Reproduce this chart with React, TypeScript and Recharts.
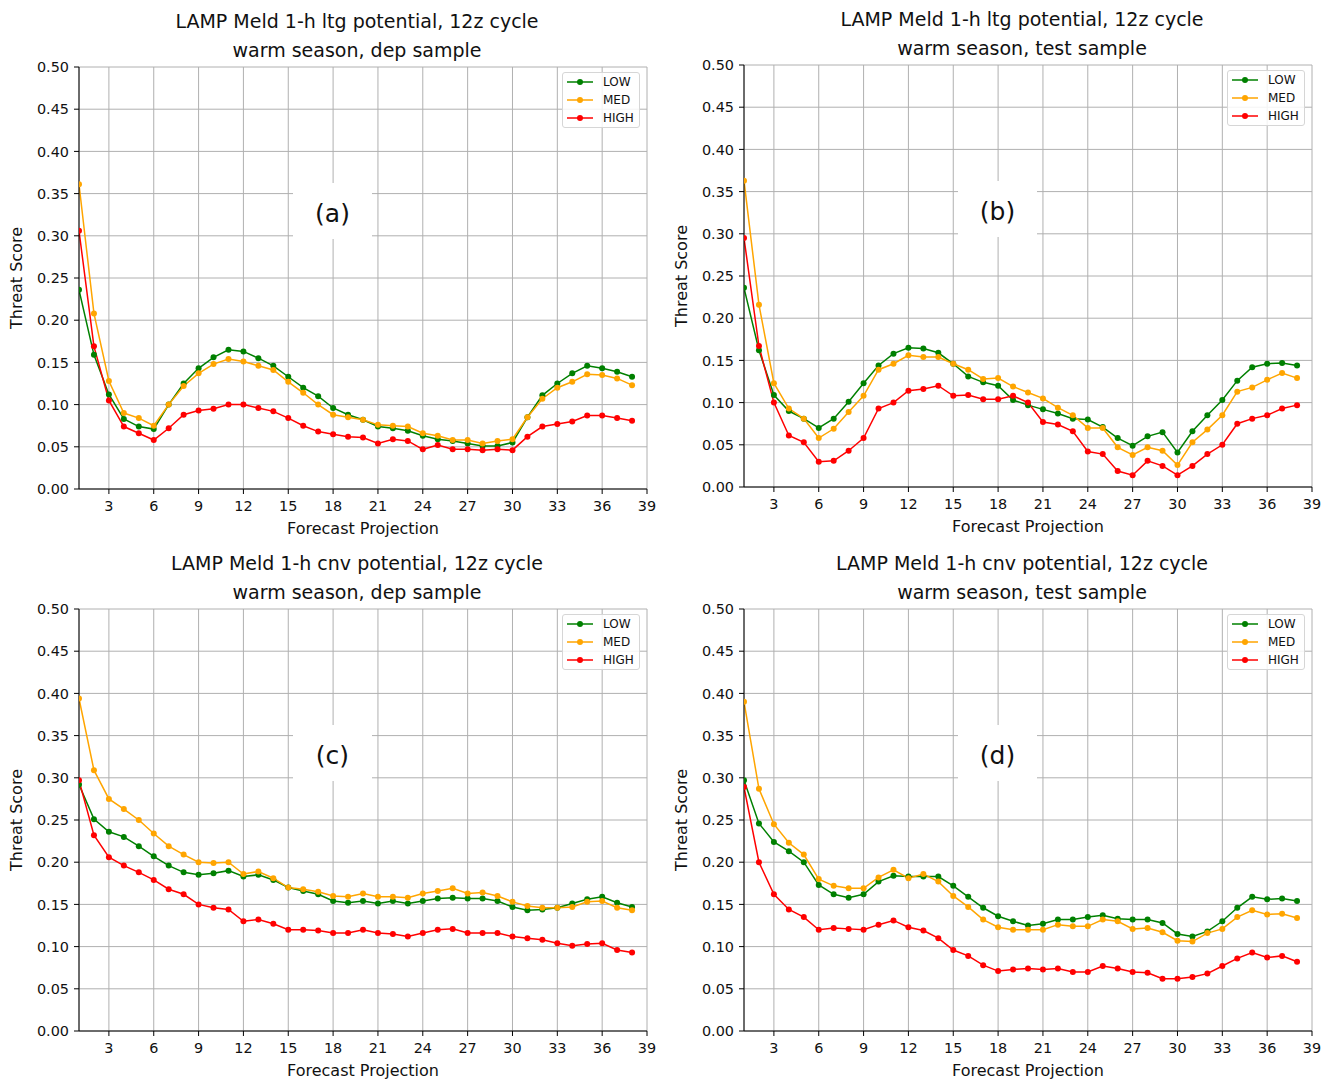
import React from 'react';
import { LineChart, Line, XAxis, YAxis, CartesianGrid } from 'recharts';

const FONT = '"DejaVu Sans", "Liberation Sans", sans-serif';

// Forecast projection (hours)
const steps = [1, 2, 3, 4, 5, 6, 7, 8, 9, 10, 11, 12, 13, 14, 15, 16, 17, 18, 19, 20, 21, 22, 23, 24, 25, 26, 27, 28, 29, 30, 31, 32, 33, 34, 35, 36, 37, 38];
const xTicks = [3, 6, 9, 12, 15, 18, 21, 24, 27, 30, 33, 36, 39];
const yTicks = [0, 0.05, 0.1, 0.15, 0.2, 0.25, 0.3, 0.35, 0.4, 0.45, 0.5];

const levels = ['LOW', 'MED', 'HIGH'];
const levelColors = ['#008000', '#ffa500', '#ff0000'];

// (a) ltg potential, dep sample
const aLow = [0.236, 0.159, 0.112, 0.083, 0.074, 0.071, 0.100, 0.125, 0.143, 0.156, 0.165, 0.163, 0.155, 0.146, 0.133, 0.120, 0.110, 0.096, 0.088, 0.082, 0.074, 0.072, 0.069, 0.063, 0.059, 0.057, 0.054, 0.051, 0.051, 0.055, 0.085, 0.111, 0.125, 0.137, 0.146, 0.143, 0.139, 0.133];
const aMed = [0.361, 0.208, 0.128, 0.090, 0.084, 0.075, 0.100, 0.122, 0.137, 0.148, 0.154, 0.151, 0.146, 0.141, 0.127, 0.114, 0.100, 0.088, 0.085, 0.082, 0.076, 0.075, 0.074, 0.066, 0.063, 0.058, 0.058, 0.054, 0.057, 0.059, 0.085, 0.107, 0.120, 0.127, 0.136, 0.135, 0.131, 0.123];
const aHigh = [0.306, 0.169, 0.105, 0.074, 0.066, 0.058, 0.072, 0.088, 0.093, 0.095, 0.100, 0.100, 0.096, 0.092, 0.084, 0.075, 0.068, 0.065, 0.062, 0.061, 0.054, 0.059, 0.057, 0.047, 0.052, 0.047, 0.047, 0.046, 0.047, 0.046, 0.062, 0.074, 0.077, 0.080, 0.087, 0.087, 0.084, 0.081];

// (b) ltg potential, test sample
const bLow = [0.236, 0.162, 0.109, 0.090, 0.081, 0.070, 0.081, 0.101, 0.123, 0.144, 0.158, 0.165, 0.164, 0.159, 0.146, 0.131, 0.124, 0.120, 0.103, 0.097, 0.092, 0.087, 0.081, 0.080, 0.071, 0.058, 0.049, 0.060, 0.065, 0.041, 0.066, 0.085, 0.103, 0.126, 0.142, 0.146, 0.147, 0.144];
const bMed = [0.363, 0.216, 0.123, 0.093, 0.081, 0.058, 0.069, 0.089, 0.108, 0.139, 0.146, 0.156, 0.154, 0.154, 0.146, 0.139, 0.128, 0.129, 0.119, 0.112, 0.105, 0.094, 0.085, 0.070, 0.070, 0.047, 0.038, 0.047, 0.043, 0.026, 0.053, 0.068, 0.085, 0.113, 0.118, 0.127, 0.135, 0.129];
const bHigh = [0.295, 0.167, 0.100, 0.061, 0.053, 0.030, 0.031, 0.043, 0.058, 0.093, 0.100, 0.114, 0.116, 0.120, 0.108, 0.109, 0.104, 0.104, 0.108, 0.100, 0.077, 0.074, 0.066, 0.042, 0.039, 0.019, 0.014, 0.031, 0.025, 0.014, 0.025, 0.039, 0.050, 0.075, 0.081, 0.085, 0.093, 0.097];

// (c) cnv potential, dep sample
const cLow = [0.292, 0.251, 0.236, 0.230, 0.219, 0.207, 0.196, 0.188, 0.185, 0.187, 0.190, 0.183, 0.185, 0.179, 0.170, 0.166, 0.162, 0.154, 0.152, 0.154, 0.151, 0.154, 0.151, 0.154, 0.157, 0.158, 0.157, 0.157, 0.154, 0.147, 0.143, 0.144, 0.146, 0.151, 0.156, 0.159, 0.152, 0.147];
const cMed = [0.394, 0.309, 0.275, 0.263, 0.250, 0.234, 0.219, 0.209, 0.200, 0.199, 0.200, 0.186, 0.189, 0.181, 0.170, 0.168, 0.165, 0.160, 0.159, 0.163, 0.159, 0.159, 0.158, 0.163, 0.166, 0.169, 0.163, 0.164, 0.160, 0.153, 0.148, 0.146, 0.146, 0.147, 0.153, 0.154, 0.146, 0.143];
const cHigh = [0.297, 0.232, 0.206, 0.196, 0.188, 0.179, 0.168, 0.162, 0.150, 0.146, 0.144, 0.130, 0.132, 0.127, 0.120, 0.120, 0.119, 0.116, 0.116, 0.120, 0.116, 0.115, 0.112, 0.116, 0.120, 0.121, 0.116, 0.116, 0.116, 0.112, 0.110, 0.108, 0.104, 0.101, 0.103, 0.104, 0.096, 0.093];

// (d) cnv potential, test sample
const dLow = [0.297, 0.246, 0.224, 0.213, 0.200, 0.173, 0.162, 0.158, 0.162, 0.177, 0.184, 0.183, 0.183, 0.183, 0.172, 0.159, 0.146, 0.136, 0.130, 0.125, 0.127, 0.132, 0.132, 0.135, 0.137, 0.133, 0.132, 0.132, 0.128, 0.115, 0.112, 0.118, 0.130, 0.146, 0.159, 0.156, 0.157, 0.154];
const dMed = [0.390, 0.287, 0.245, 0.223, 0.209, 0.180, 0.172, 0.169, 0.169, 0.182, 0.191, 0.181, 0.186, 0.177, 0.160, 0.147, 0.132, 0.123, 0.120, 0.120, 0.120, 0.126, 0.124, 0.124, 0.132, 0.130, 0.121, 0.122, 0.117, 0.107, 0.106, 0.116, 0.121, 0.135, 0.143, 0.138, 0.139, 0.134];
const dHigh = [0.289, 0.200, 0.162, 0.144, 0.135, 0.120, 0.122, 0.121, 0.120, 0.126, 0.131, 0.123, 0.119, 0.110, 0.096, 0.089, 0.078, 0.071, 0.073, 0.074, 0.073, 0.074, 0.070, 0.070, 0.077, 0.074, 0.070, 0.069, 0.062, 0.062, 0.064, 0.068, 0.077, 0.086, 0.093, 0.087, 0.089, 0.082];

const panels = [
  { left: 79, top: 67, title1: 'LAMP Meld 1-h ltg potential, 12z cycle', title2: 'warm season, dep sample', tag: '(a)', series: [aLow, aMed, aHigh] },
  { left: 744, top: 65, title1: 'LAMP Meld 1-h ltg potential, 12z cycle', title2: 'warm season, test sample', tag: '(b)', series: [bLow, bMed, bHigh] },
  { left: 79, top: 609, title1: 'LAMP Meld 1-h cnv potential, 12z cycle', title2: 'warm season, dep sample', tag: '(c)', series: [cLow, cMed, cHigh] },
  { left: 744, top: 609, title1: 'LAMP Meld 1-h cnv potential, 12z cycle', title2: 'warm season, test sample', tag: '(d)', series: [dLow, dMed, dHigh] },
];

const PW = 568; // plot width
const PH = 422; // plot height
const ML = 79;  // offset of plot inside chart
const MT = 67;
const CW = 665;
const CH = 541;
const YW = 60;
const XH = 30;

const tickStyle = { fontSize: 14.4, fill: '#111', fontFamily: FONT };

function Panel({ p }: { p: any }) {
  const data = steps.map((s, i) => {
    const row: any = { step: s };
    levels.forEach((lv, k) => { row[lv] = p.series[k][i]; });
    return row;
  });
  const textBase: React.CSSProperties = { position: 'absolute', fontFamily: FONT, color: '#111', whiteSpace: 'nowrap' };
  return (
    <>
      <div style={{ position: 'absolute', left: p.left - ML, top: p.top - MT, width: CW, height: CH }}>
        <LineChart
          width={CW}
          height={CH}
          data={data}
          margin={{ top: MT, right: CW - ML - PW, bottom: CH - MT - PH - XH, left: ML - YW }}
        >
          <CartesianGrid stroke="#b0b0b0" strokeWidth={1} />
          <XAxis
            dataKey="step"
            type="number"
            domain={[1, 39]}
            ticks={xTicks}
            interval={0}
            height={XH}
            tick={tickStyle}
            tickSize={5}
            tickMargin={7}
            axisLine={{ stroke: '#000' }}
            tickLine={{ stroke: '#000' }}
            allowDataOverflow
          />
          <XAxis
            xAxisId="top"
            orientation="top"
            dataKey="step"
            type="number"
            domain={[1, 39]}
            height={0}
            tick={false}
            tickLine={false}
            axisLine={{ stroke: '#000' }}
          />
          <YAxis
            type="number"
            domain={[0, 0.5]}
            ticks={yTicks}
            interval={0}
            width={YW}
            tick={tickStyle}
            tickSize={5}
            tickMargin={5}
            tickFormatter={(v: number) => v.toFixed(2)}
            axisLine={{ stroke: '#000' }}
            tickLine={{ stroke: '#000' }}
            allowDataOverflow
          />
          <YAxis
            yAxisId="right"
            orientation="right"
            type="number"
            domain={[0, 0.5]}
            width={0}
            tick={false}
            tickLine={false}
            axisLine={{ stroke: '#000' }}
          />
          {levels.map((lv, k) => (
            <Line
              key={lv}
              type="linear"
              dataKey={lv}
              stroke={levelColors[k]}
              strokeWidth={1.5}
              dot={{ r: 3, fill: levelColors[k], stroke: levelColors[k], strokeWidth: 0 }}
              activeDot={false}
              isAnimationActive={false}
            />
          ))}
        </LineChart>
      </div>
      {/* title */}
      <div style={{ ...textBase, left: p.left + 278 - 300, width: 600, top: p.top - 46 - 14.5, textAlign: 'center', fontSize: 19, lineHeight: '29px' }}>
        <div>{p.title1}</div>
        <div>{p.title2}</div>
      </div>
      {/* y label */}
      <div style={{ ...textBase, left: p.left - 62 - 70, top: p.top + 211 - 10, width: 140, height: 20, lineHeight: '20px', textAlign: 'center', fontSize: 16, transform: 'rotate(-90deg)' }}>
        Threat Score
      </div>
      {/* x label */}
      <div style={{ ...textBase, left: p.left + 284 - 100, top: p.top + 462 - 10, width: 200, height: 20, lineHeight: '20px', textAlign: 'center', fontSize: 16 }}>
        Forecast Projection
      </div>
      {/* panel tag with white box */}
      <div style={{ position: 'absolute', left: p.left + 214, top: p.top + 116, width: 79, height: 56, background: '#fff' }} />
      <div style={{ ...textBase, left: p.left + 214, top: p.top + 147 - 20, width: 79, height: 40, lineHeight: '40px', textAlign: 'center', fontSize: 25 }}>
        {p.tag}
      </div>
      {/* legend */}
      <div style={{ position: 'absolute', left: p.left + 483, top: p.top + 5, width: 76, height: 54, border: '1px solid #d6d6d6', borderRadius: 3, background: 'rgba(255,255,255,0.85)' }}>
        {levels.map((lv, k) => (
          <div key={lv} style={{ position: 'absolute', left: 0, top: 9 + k * 18 - 8, height: 16, width: 76 }}>
            <svg width={32} height={16} style={{ position: 'absolute', left: 3, top: 0 }}>
              <line x1={1} y1={8} x2={27} y2={8} stroke={levelColors[k]} strokeWidth={1.5} />
              <circle cx={14} cy={8} r={3} fill={levelColors[k]} />
            </svg>
            <span style={{ position: 'absolute', left: 40, top: 0, lineHeight: '16px', fontSize: 12, fontFamily: FONT, color: '#111' }}>{lv}</span>
          </div>
        ))}
      </div>
    </>
  );
}

export default function App() {
  return (
    <div style={{ position: 'absolute', left: 0, top: 0, width: 1330, height: 1082, background: '#fff' }}>
      {panels.map((p) => (
        <Panel key={p.tag} p={p} />
      ))}
    </div>
  );
}
